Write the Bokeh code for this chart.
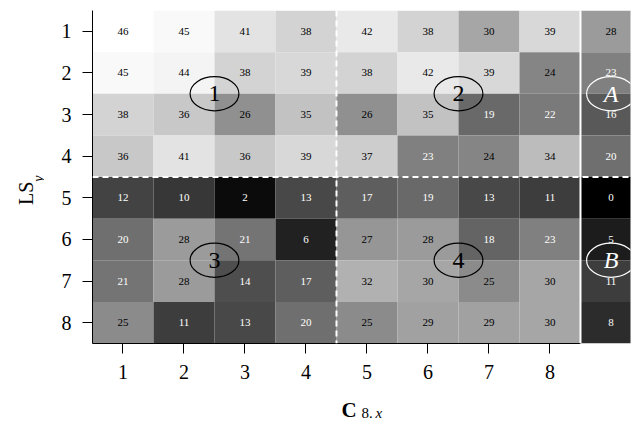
import math
from bokeh.plotting import figure
from bokeh.models import Range1d, FixedTicker, Span, ColumnDataSource
from bokeh.layouts import row, column
from bokeh.core.properties import value
from bokeh.embed import file_html
from bokeh.resources import INLINE

# ---- data ----
rows = [1, 2, 3, 4, 5, 6, 7, 8]
cols = [1, 2, 3, 4, 5, 6, 7, 8, 9]          # column 9 = extra column (A/B)
row1 = [46, 45, 41, 38, 42, 38, 30, 39, 28]
row2 = [45, 44, 38, 39, 38, 42, 39, 24, 23]
row3 = [38, 36, 26, 35, 26, 35, 19, 22, 16]
row4 = [36, 41, 36, 39, 37, 23, 24, 34, 20]
row5 = [12, 10, 2, 13, 17, 19, 13, 11, 0]
row6 = [20, 28, 21, 6, 27, 28, 18, 23, 5]
row7 = [21, 28, 14, 17, 32, 30, 25, 30, 11]
row8 = [25, 11, 13, 20, 25, 29, 29, 30, 8]
grid = [row1, row2, row3, row4, row5, row6, row7, row8]
xtick_labels = ["1", "2", "3", "4", "5", "6", "7", "8"]
ytick_labels = ["1", "2", "3", "4", "5", "6", "7", "8"]
region_names = ["1", "2", "3", "4"]
region_x = [2.5, 6.5, 2.5, 6.5]
region_y = [2.5, 2.5, 6.5, 6.5]
extra_names = ["A", "B"]
extra_x = [9, 9]
extra_y = [2.5, 6.5]

FONT = "Liberation Serif"
vmax = max(max(r) for r in grid)

xs, ys, fills, tcols, labels = [], [], [], [], []
for r, rowvals in zip(rows, grid):
    for c, v in zip(cols, rowvals):
        g = int(round(v / vmax * 255))
        xs.append(c)
        ys.append(r)
        fills.append("#%02x%02x%02x" % (g, g, g))
        tcols.append("black" if v >= 24 else "white")
        labels.append(str(v))

src = ColumnDataSource(dict(x=xs, y=ys, fill=fills, tcol=tcols, label=labels))

p = figure(width=598, height=390, output_backend="svg", toolbar_location=None,
           title_location=None,
           x_range=Range1d(0.5, 9.32), y_range=Range1d(8.5, 0.5),
           min_border_left=48, min_border_right=12, min_border_top=10, min_border_bottom=47)
p.outline_line_color = None
p.xgrid.visible = False
p.ygrid.visible = False
p.background_fill_color = "white"

p.rect("x", "y", width=1, height=1, source=src, fill_color="fill", line_color=None)
p.text("x", "y", text="label", source=src, text_color="tcol", text_align="center",
       text_baseline="middle", text_font_size="11px", text_font=value(FONT))

# group separators
p.add_layout(Span(location=4.5, dimension="width", line_color="white",
                  line_width=2, line_dash="6 4"))
p.add_layout(Span(location=4.5, dimension="height", line_color="white",
                  line_width=2, line_dash="6 4"))
p.add_layout(Span(location=8.5, dimension="height", line_color="white", line_width=2))

# region ellipses
p.ellipse(region_x, region_y, width=0.8, height=0.82, fill_alpha=0,
          line_color="black", line_width=1.2)
p.text(region_x, region_y, text=region_names, text_align="center", text_baseline="middle",
       text_font_size="24px", text_font=value(FONT), text_color="black")
p.ellipse(extra_x, extra_y, width=0.8, height=0.82, fill_alpha=0,
          line_color="white", line_width=1.2)
p.text(extra_x, extra_y, text=extra_names, text_align="center", text_baseline="middle",
       text_font_size="24px", text_font=value(FONT), text_font_style="italic",
       text_color="white")

# axes
for ax, labs in ((p.xaxis[0], xtick_labels), (p.yaxis[0], ytick_labels)):
    ax.ticker = FixedTicker(ticks=list(range(1, len(labs) + 1)))
    ax.major_label_overrides = {i + 1: s for i, s in enumerate(labs)}
    ax.minor_tick_line_color = None
    ax.major_tick_in = 0
    ax.major_tick_out = 10
    ax.major_tick_line_color = "black"
    ax.axis_line_color = "black"
    ax.major_label_text_font = FONT
    ax.major_label_text_font_size = "20px"
    ax.major_label_text_color = "black"
    ax.major_label_standoff = 11
p.xaxis[0].bounds = (0.5, 8.5)
p.yaxis[0].major_label_orientation = "horizontal"


def label_panel(w, h):
    f = figure(width=w, height=h, output_backend="svg", toolbar_location=None,
               title_location=None,
               x_range=Range1d(0, w), y_range=Range1d(0, h),
               x_axis_type=None, y_axis_type=None,
               min_border_left=0, min_border_right=0, min_border_top=0, min_border_bottom=0)
    f.outline_line_color = None
    f.xgrid.visible = False
    f.ygrid.visible = False
    f.background_fill_color = "white"
    return f


# y-axis title: LS_y (rotated), panel 44 x 390, y measured upward
left = label_panel(44, 390)
left.text([25], [176], text=["LS"], angle=math.pi / 2, text_align="center",
          text_baseline="middle", text_font=value(FONT), text_font_size="20px",
          text_color="black")
left.text([37.5], [193], text=["y"], angle=math.pi / 2, text_align="center",
          text_baseline="middle", text_font=value(FONT), text_font_size="14px",
          text_font_style="italic", text_color="black")

# x-axis title: C_{8.x}, panel 642 x 33, y measured upward
bottom = label_panel(642, 33)
bottom.text([341], [14], text=["C"], text_align="left", text_baseline="alphabetic",
            text_font=value(FONT), text_font_size="21px", text_font_style="bold",
            text_color="black")
bottom.text([361], [10.5], text=["8."], text_align="left", text_baseline="alphabetic",
            text_font=value(FONT), text_font_size="15px", text_color="black")
bottom.text([375], [10.5], text=["x"], text_align="left", text_baseline="alphabetic",
            text_font=value(FONT), text_font_size="15px", text_font_style="italic",
            text_color="black")

layout = column(row(left, p), bottom)
open("out.html", "w").write(file_html(layout, INLINE))
